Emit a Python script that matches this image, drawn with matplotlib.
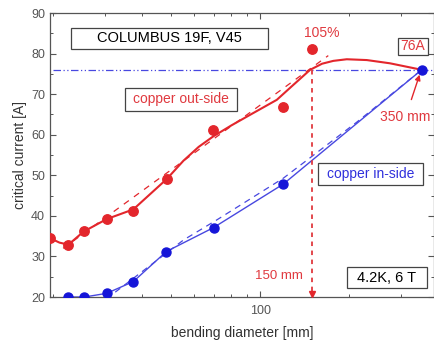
import matplotlib.pyplot as plt
from matplotlib.patches import Rectangle
from matplotlib.ticker import FixedLocator, NullFormatter, MultipleLocator

plt.rcParams['font.family'] = ['Liberation Sans', 'DejaVu Sans']

# measured points, copper out-side (red)
out_diam = [19.5, 22.5, 25.5, 30.3, 37.3, 48.4, 69.4, 119.9, 149.6]
out_ic = [34.6, 32.8, 36.3, 39.2, 41.2, 49.1, 61.2, 66.9, 81.05]

# smooth curve through the red points
out_fit_diam = [19.5, 21.0, 22.5, 25.3, 30.3, 37.3, 48.4, 55.1, 62.0, 69.5,
                80.0, 92.5, 113.9, 129.6, 147.6, 162.0, 176.8, 196.3, 229.4,
                274.8, 351.6]
out_fit_ic = [34.5, 33.4, 32.9, 36.1, 39.2, 41.6, 49.1, 53.6, 57.0, 59.6,
              62.3, 64.9, 68.6, 72.3, 76.0, 77.5, 78.2, 78.6, 78.4,
              77.6, 76.0]

# straight dashed trend, red
out_lin_diam = [21.6, 170.0]
out_lin_ic = [32.0, 79.5]

# measured points, copper in-side (blue)
in_diam = [22.5, 25.5, 30.3, 37.3, 48.2, 69.6, 119.9, 351.6]
in_ic = [20.0, 20.0, 20.9, 23.8, 31.2, 37.1, 47.85, 76.0]

# dashed trend, blue
in_lin_diam = [32.4, 55.1, 71.4, 119.9, 212.2, 351.6]
in_lin_ic = [21.2, 34.05, 39.0, 49.3, 63.1, 76.0]

ref_ic = 76.0
limit_diam = 150.0

RED = '#e3262c'
RED_TXT = '#e0393f'
BLUE = '#1515d8'
BLUE_LN = '#4848e0'
GRAY = '#555555'

W, H = 435, 342


def px(x, y):
    """pixel position -> figure fraction"""
    return x / W, 1 - y / H


fig = plt.figure(figsize=(4.35, 3.42), dpi=100)
ax = fig.add_axes([50 / W, 1 - 297 / H, 384 / W, 284 / H])

ax.set_xscale('log')
ax.set_xlim(19.5, 387)
ax.set_ylim(20, 90)

ax.axhline(ref_ic, color=BLUE_LN, lw=0.9, ls=(0, (6, 2, 1, 2, 1, 2)), xmin=0.008)

ax.plot(out_lin_diam, out_lin_ic, color=RED, lw=0.9, ls=(0, (5, 5)))
ax.plot(out_fit_diam, out_fit_ic, color=RED, lw=1.5)
ax.plot(out_diam, out_ic, 'o', color=RED, ms=6.8, zorder=5)

ax.plot(in_lin_diam, in_lin_ic, color=BLUE_LN, lw=0.9, ls=(0, (5, 4)))
ax.plot(in_diam, in_ic, color=BLUE_LN, lw=1.0)
ax.plot(in_diam, in_ic, 'o', color=BLUE, ms=6.5, zorder=5, clip_on=True)

# vertical marker at 150 mm
ax.plot([limit_diam, limit_diam], [ref_ic, 20.6], color=RED_TXT, lw=1.3, ls=(0, (2.5, 2.5)))
ax.plot([limit_diam], [20.8], 'v', color=RED, ms=4, clip_on=False, zorder=6)

ax.annotate('350 mm', xy=(346, 74.8), xytext=(310, 64.3), color=RED_TXT,
            fontsize=10, ha='center', va='center',
            arrowprops=dict(arrowstyle='-|>', color=RED, lw=1.0,
                            mutation_scale=8, shrinkA=6, shrinkB=0))

# axis styling
ax.xaxis.set_major_locator(FixedLocator([100]))
ax.set_xticklabels(['100'])
ax.xaxis.set_minor_formatter(NullFormatter())
ax.yaxis.set_major_locator(MultipleLocator(10))
ax.yaxis.set_minor_locator(MultipleLocator(5))
ax.tick_params(which='both', direction='in', top=True, right=True,
               colors=GRAY, labelsize=9, labelcolor=GRAY)
ax.tick_params(which='major', length=4, width=0.8)
ax.tick_params(which='minor', length=2.2, width=0.7)
ax.tick_params(axis='x', pad=6)
for s in ax.spines.values():
    s.set_color(GRAY)
    s.set_linewidth(0.9)

ax.set_xlabel('bending diameter [mm]', fontsize=10, color='#333333', labelpad=6)
ax.set_ylabel('critical current [A]', fontsize=10, color='#333333', labelpad=3)

# text boxes (pixel layout)
boxes = [
    ((71, 28, 268, 49), 'COLUMBUS 19F, V45', 'black', 10.5),
    ((125, 88, 237, 110.5), 'copper out-side', RED_TXT, 10),
    ((318, 163, 423, 185), 'copper in-side', '#3030dc', 10),
    ((347, 267, 427, 288), '4.2K, 6 T', 'black', 10.5),
    ((398, 38, 428, 55), '76A', RED_TXT, 10),
]
for (x0, y0, x1, y1), label, col, fs in boxes:
    fx0, fy1 = px(x0, y1)
    fx1, fy0 = px(x1, y0)
    fig.patches.append(Rectangle((fx0, fy1), fx1 - fx0, fy0 - fy1,
                                 transform=fig.transFigure, fill=True,
                                 facecolor='white', edgecolor='#444444',
                                 lw=0.9, zorder=3))
    cx, cy = px((x0 + x1) / 2, (y0 + y1) / 2)
    fig.text(cx, cy, label, color=col, fontsize=fs, ha='center', va='center', zorder=4)

fx, fy = px(322, 33)
fig.text(fx, fy, '105%', color=RED_TXT, fontsize=10, ha='center', va='center')
fx, fy = px(303, 276)
fig.text(fx, fy, '150 mm', color=RED_TXT, fontsize=9.5, ha='right', va='center')

fig.savefig('out.png', dpi=100)
